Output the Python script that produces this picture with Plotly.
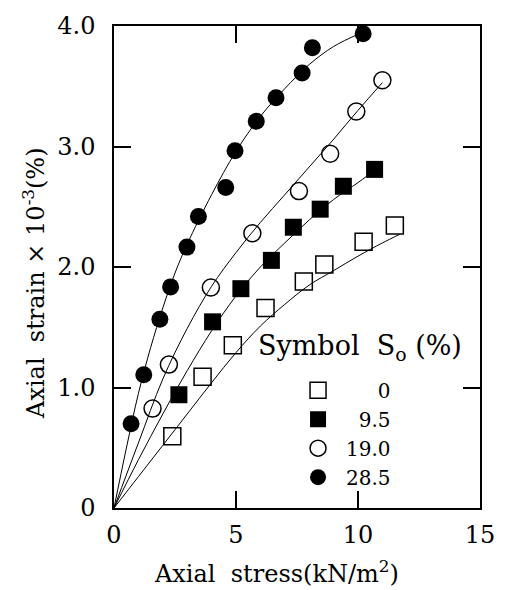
import plotly.graph_objects as go

# ---- data ----
series_names = ["\u2007\u2007\u20080", "\u20079.5", "19.0", "28.5"]

# So = 0 % (open squares)
x_s0 = [2.39, 3.63, 4.87, 6.21, 7.78, 8.62, 10.23, 11.51]
y_s0 = [0.595, 1.09, 1.35, 1.66, 1.88, 2.02, 2.21, 2.345]
# So = 9.5 % (filled squares)
x_s95 = [2.66, 4.04, 5.20, 6.45, 7.35, 8.45, 9.40, 10.68]
y_s95 = [0.94, 1.545, 1.82, 2.055, 2.33, 2.48, 2.67, 2.81]
# So = 19.0 % (open circles)
x_s19 = [1.58, 2.25, 3.97, 5.67, 7.58, 8.86, 9.93, 11.0]
y_s19 = [0.825, 1.19, 1.83, 2.28, 2.63, 2.94, 3.29, 3.55]
# So = 28.5 % (filled circles)
x_s285 = [0.70, 1.22, 1.88, 2.32, 2.99, 3.46, 4.58, 4.96, 5.83, 6.64, 7.71, 8.13, 10.21]
y_s285 = [0.70, 1.105, 1.567, 1.835, 2.165, 2.42, 2.66, 2.965, 3.21, 3.405, 3.61, 3.82, 3.935]

# fitted curves
cx_s0 = [0, 1, 2, 3, 4, 5, 6, 7, 8, 9, 10, 11, 11.7]
cy_s0 = [0, 0.26, 0.52, 0.78, 1.04, 1.29, 1.51, 1.69, 1.85, 1.97, 2.09, 2.20, 2.27]
cx_s95 = [0, 1, 2, 3, 4, 5, 6, 7, 8, 9, 10, 10.4]
cy_s95 = [0, 0.40, 0.78, 1.14, 1.47, 1.76, 2.00, 2.20, 2.39, 2.56, 2.70, 2.76]
cx_s19 = [0, 1, 2, 3, 4, 5, 6, 7, 8, 9, 10, 11.0]
cy_s19 = [0, 0.54, 1.07, 1.49, 1.84, 2.12, 2.37, 2.60, 2.83, 3.06, 3.30, 3.53]
cx_s285 = [0, 0.5, 1, 1.5, 2, 2.5, 3, 4, 5, 6, 7, 8, 9, 10.1]
cy_s285 = [0, 0.49, 0.95, 1.33, 1.66, 1.95, 2.19, 2.60, 2.96, 3.25, 3.48, 3.68, 3.83, 3.94]

x_tickvals = [0, 5, 10, 15]
x_ticktext = ["0", "5", "10", "15"]
y_tickvals = [0, 1, 2, 3, 4]
y_ticktext = ["0", "1.0", "2.0", "3.0", "4.0"]

FONT = "DejaVu Serif"

fig = go.Figure()

curves = [(cx_s0, cy_s0), (cx_s95, cy_s95), (cx_s19, cy_s19), (cx_s285, cy_s285)]
for cx, cy in curves:
    fig.add_trace(go.Scatter(x=cx, y=cy, mode="lines", line=dict(color="black", width=1, shape="spline"),
                             showlegend=False, hoverinfo="skip"))

pts = [(x_s0, y_s0, "square-open"), (x_s95, y_s95, "square"),
       (x_s19, y_s19, "circle-open"), (x_s285, y_s285, "circle")]
for (px, py, sym), name in zip(pts, series_names):
    fig.add_trace(go.Scatter(x=px, y=py, mode="markers", name=name,
                             marker=dict(symbol=sym, size=17, color="black",
                                         line=dict(color="black", width=1.5 if "open" in sym else 0))))

fig.update_layout(
    width=507, height=590,
    margin=dict(l=114, r=19, t=17, b=82),
    paper_bgcolor="white", plot_bgcolor="white",
    font=dict(family=FONT, size=21, color="black"),
    legend=dict(x=0.481, xanchor="left", y=0.285, yanchor="top",
                bgcolor="rgba(0,0,0,0)", borderwidth=0, itemwidth=46,
                font=dict(family=FONT, size=20, color="black"),
                itemsizing="trace"),
    annotations=[
        dict(text="Symbol  S<sub>o</sub> (%)", xref="paper", yref="paper",
             x=(259 - 114) / 374, y=(508 - 345) / 491, xanchor="left", yanchor="middle",
             showarrow=False, font=dict(family=FONT, size=27, color="black")),
        dict(text="Axial  stress(kN/m<sup>2</sup>)", xref="paper", yref="paper",
             x=(280 - 114) / 374, y=(508 - 573) / 491, xanchor="center", yanchor="middle",
             showarrow=False, font=dict(family=FONT, size=24, color="black")),
        dict(text="Axial  strain \u00d7 10<sup>-3</sup>(%)", xref="paper", yref="paper",
             x=(32 - 114) / 374, y=(508 - 279) / 491, xanchor="center", yanchor="middle",
             textangle=-90, showarrow=False, font=dict(family=FONT, size=24, color="black")),
    ],
)

fig.update_xaxes(range=[0, 15], tickvals=x_tickvals, ticktext=x_ticktext,
                 ticks="inside", ticklen=17, tickwidth=1.5, tickcolor="black",
                 showline=True, linecolor="black", linewidth=1.5, mirror="ticks",
                 showgrid=False, zeroline=False, ticklabelstandoff=4,
                 tickfont=dict(family=FONT, size=24, color="black"))
fig.update_yaxes(range=[0, 4], tickvals=y_tickvals, ticktext=y_ticktext,
                 ticks="inside", ticklen=17, tickwidth=1.5, tickcolor="black",
                 showline=True, linecolor="black", linewidth=1.5, mirror="ticks",
                 showgrid=False, zeroline=False, ticklabelstandoff=12,
                 tickfont=dict(family=FONT, size=24, color="black"))

fig.write_html("out.html")
